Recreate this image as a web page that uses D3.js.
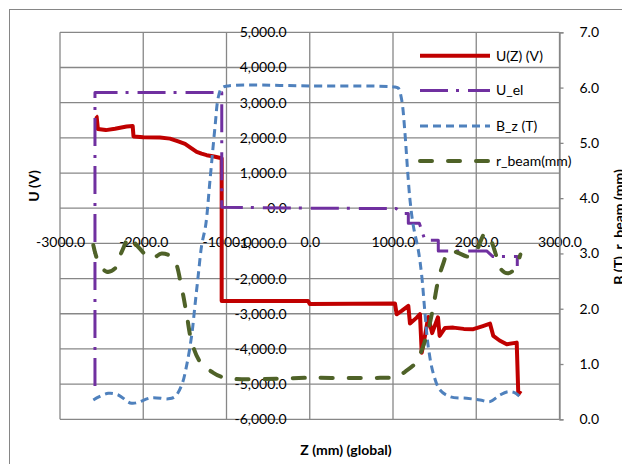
<!DOCTYPE html>
<html lang="en">
<head>
<meta charset="UTF-8">
<title>U(Z), U_el, B_z, r_beam</title>
<style>
    body { margin: 0; background: #fff; }
    text { font-family: Lato, "Open Sans", sans-serif; font-size: 14px; fill: #000; }
    .grid line { stroke: #878787; stroke-width: 1.3; }
    .title { font-weight: bold; }
</style>
</head>
<body>
<script src="https://d3js.org/d3.v7.min.js"></script>
<script>
    // tick values
    const xTicks = [-3000, -2000, -1000, 0, 1000, 2000, 3000];
    const yLeftTicks = [-6000, -5000, -4000, -3000, -2000, -1000, 0, 1000, 2000, 3000, 4000, 5000];
    const yRightTicks = [0, 1, 2, 3, 4, 5, 6, 7];

    // U(Z) (V), left axis  [z (mm), U]
    const uZ = [
        [-2571, 2624], [-2560, 2600], [-2545, 2250], [-2450, 2220], [-2339, 2260], [-2200, 2320],
        [-2127, 2339], [-2117, 2040], [-2000, 2015], [-1800, 2010], [-1679, 1978], [-1580, 1900],
        [-1498, 1828], [-1420, 1700], [-1358, 1600], [-1300, 1550], [-1238, 1507], [-1150, 1470],
        [-1058, 1421], [-1058, -2640], [-20, -2640], [0, -2720], [1024, -2712], [1044, -3013],
        [1104, -2919], [1184, -2777], [1204, -3280], [1285, -3110], [1324, -3013], [1345, -4105],
        [1384, -3630], [1424, -3090], [1470, -3550], [1540, -3100], [1560, -3630], [1625, -3403],
        [1724, -3394], [1850, -3430], [1965, -3439], [2080, -3350], [2165, -3280], [2205, -3630],
        [2280, -3760], [2366, -3866], [2486, -3820], [2505, -5287], [2534, -5193]
    ];

    // U_el, left axis
    const uEl = [
        [-2580, -5050], [-2580, 3290], [-1057, 3290], [-1057, 30], [0, 0], [1040, -10],
        [1100, -153], [1184, -153], [1184, -426], [1316, -426], [1384, -910], [1544, -910],
        [1544, -1214], [2125, -1214], [2200, -1376], [2493, -1376], [2493, -1640]
    ];

    // B_z (T), right axis
    const bZ = [
        [-2600, 0.35], [-2420, 0.47], [-2300, 0.44], [-2139, 0.29], [-1899, 0.39], [-1699, 0.37],
        [-1619, 0.41], [-1538, 0.62], [-1478, 0.98], [-1418, 1.52], [-1378, 2.07], [-1339, 2.61],
        [-1298, 3.15], [-1250, 3.51], [-1198, 4.33], [-1138, 5.29], [-1098, 5.83], [-1058, 5.99],
        [-978, 6.03], [0, 6.03], [1024, 6.01], [1064, 5.99], [1104, 5.78], [1144, 5.17],
        [1172, 4.57], [1204, 3.97], [1244, 3.5], [1304, 3.06], [1345, 2.6], [1384, 1.92],
        [1424, 1.31], [1484, 0.83], [1565, 0.53], [1685, 0.41], [1885, 0.38], [2045, 0.35],
        [2165, 0.32], [2285, 0.44], [2385, 0.5], [2465, 0.48], [2525, 0.41]
    ];

    // r_beam (mm), right axis
    const rBeam = [
        [-2600, 3.15], [-2540, 2.85], [-2439, 2.67], [-2339, 2.73], [-2259, 3.03], [-2160, 3.3],
        [-2080, 3.15], [-1899, 2.91], [-1778, 3.0], [-1639, 2.91], [-1538, 2.37], [-1478, 1.89],
        [-1418, 1.4], [-1318, 1.04], [-1178, 0.86], [-1018, 0.75], [0, 0.75], [844, 0.75],
        [1044, 0.77], [1144, 0.86], [1285, 1.04], [1345, 1.25], [1424, 1.62], [1484, 2.04],
        [1544, 2.52], [1600, 2.8], [1665, 3.03], [1745, 3.03], [1925, 2.94], [2005, 3.06],
        [2105, 3.36], [2165, 3.27], [2245, 2.94], [2305, 2.7], [2385, 2.64], [2465, 2.73],
        [2530, 2.98]
    ];

    const W = 622, H = 464;
    const fmt = d3.formatLocale({ decimal: '.', thousands: ',', grouping: [3], currency: ['', ''], minus: '-' });

    const svg = d3.select('body').append('svg')
        .attr('width', W)
        .attr('height', H);

    // chart area border
    svg.append('rect')
        .attr('x', 9.5).attr('y', 9.5)
        .attr('width', 700).attr('height', 600)
        .attr('fill', 'none')
        .attr('stroke', '#868686');

    const x = d3.scaleLinear().domain([-3000, 3000]).range([60, 559.5]);
    const yL = d3.scaleLinear().domain([-6000, 5000]).range([419.3, 32.3]);
    const yR = d3.scaleLinear().domain([0, 7]).range([419.3, 32.3]);

    // gridlines
    const grid = svg.append('g').attr('class', 'grid');
    grid.selectAll('.v').data(xTicks).enter().append('line')
        .attr('x1', (d) => x(d)).attr('x2', (d) => x(d))
        .attr('y1', yL.range()[1]).attr('y2', yL.range()[0]);
    grid.selectAll('.h').data(yLeftTicks).enter().append('line')
        .attr('x1', x.range()[0]).attr('x2', x.range()[1])
        .attr('y1', (d) => yL(d)).attr('y2', (d) => yL(d));

    // x axis (labels only)
    const xAxis = svg.append('g')
        .attr('transform', `translate(0,${yL(0)})`)
        .call(d3.axisBottom(x).tickValues(xTicks).tickSize(0).tickPadding(29).tickFormat(fmt.format('.1f')));
    xAxis.select('.domain').remove();

    // left axis
    const yAxisL = svg.append('g')
        .attr('transform', `translate(${x(0)},0)`)
        .call(d3.axisLeft(yL).tickValues(yLeftTicks).tickSize(0).tickPadding(23).tickFormat(fmt.format(',.1f')));
    yAxisL.select('.domain').remove();

    // right axis
    const yAxisR = svg.append('g')
        .attr('transform', `translate(${x(3000)},0)`)
        .call(d3.axisRight(yR).tickValues(yRightTicks).tickSize(4).tickPadding(16).tickFormat(fmt.format('.1f')));
    yAxisR.select('.domain').attr('stroke', '#878787').attr('stroke-width', 1.3);
    yAxisR.selectAll('.tick line').attr('stroke', '#878787').attr('stroke-width', 1.3);

    svg.selectAll('.tick text')
        .style('font-family', 'Lato, "Open Sans", sans-serif')
        .style('font-size', '14px')
        .attr('fill', '#000');

    // axis titles
    svg.append('text').attr('class', 'title')
        .attr('transform', 'translate(38.5,186) rotate(-90)')
        .attr('text-anchor', 'middle')
        .text('U (V)');
    svg.append('text').attr('class', 'title')
        .attr('x', 346).attr('y', 455)
        .attr('text-anchor', 'middle')
        .text('Z (mm) (global)');
    svg.append('text').attr('class', 'title')
        .attr('transform', 'translate(624,227) rotate(-90)')
        .attr('text-anchor', 'middle')
        .text('B (T), r_beam (mm)');

    // series
    const series = [
        { name: 'U(Z) (V)', data: uZ, y: yL, color: '#C00000', width: 4, dash: null, cap: 'butt', curve: d3.curveLinear },
        { name: 'U_el', data: uEl, y: yL, color: '#7030A0', width: 3, dash: '28,8,3,9', cap: 'butt', curve: d3.curveLinear },
        { name: 'B_z (T)', data: bZ, y: yR, color: '#4F81BD', width: 3, dash: '8,5', cap: 'butt', curve: d3.curveCatmullRom.alpha(0.5) },
        { name: 'r_beam(mm)', data: rBeam, y: yR, color: '#4F6228', width: 4, dash: '12,16', cap: 'round', curve: d3.curveCatmullRom.alpha(0.5) }
    ];

    series.forEach((s) => {
        const line = d3.line()
            .x((d) => x(d[0]))
            .y((d) => s.y(d[1]))
            .curve(s.curve);
        svg.append('path')
            .datum(s.data)
            .attr('d', line)
            .attr('fill', 'none')
            .attr('stroke', s.color)
            .attr('stroke-width', s.width)
            .attr('stroke-dasharray', s.dash)
            .attr('stroke-linecap', s.cap)
            .attr('stroke-linejoin', 'round');
    });

    // legend
    const legend = svg.append('g');
    const legendY = [55.7, 90.5, 126, 161];
    series.forEach((s, i) => {
        legend.append('line')
            .attr('x1', 420).attr('x2', 490)
            .attr('y1', legendY[i]).attr('y2', legendY[i])
            .attr('stroke', s.color)
            .attr('stroke-width', s.width)
            .attr('stroke-dasharray', s.dash)
            .attr('stroke-linecap', s.cap);
        legend.append('text')
            .attr('x', 496).attr('y', legendY[i])
            .attr('dy', '0.35em')
            .text(s.name);
    });
</script>
</body>
</html>
